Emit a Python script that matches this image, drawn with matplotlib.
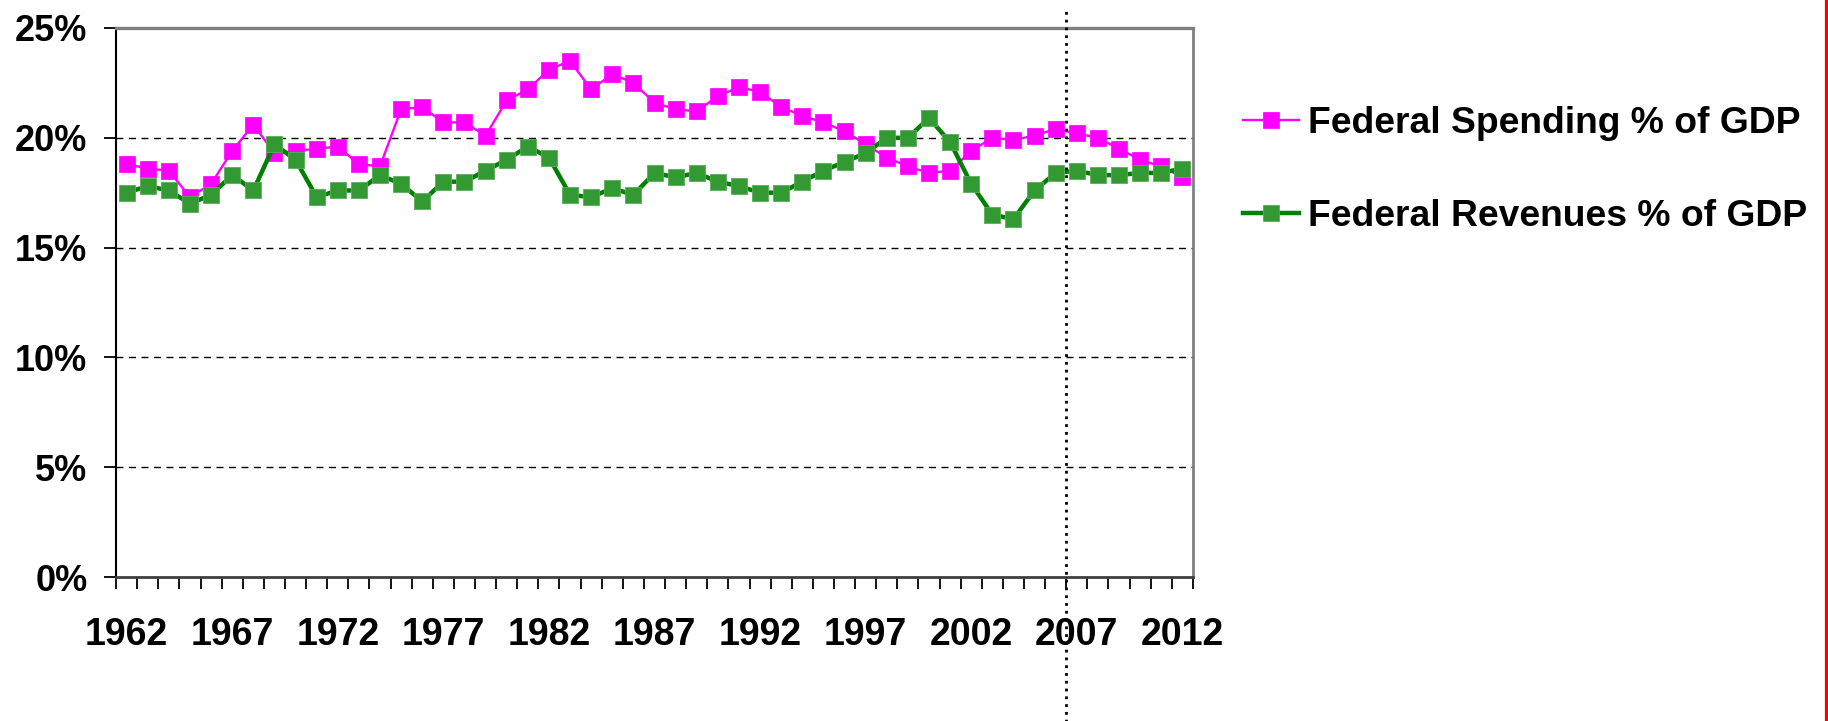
import numpy as np
import matplotlib as mpl
mpl.use("Agg")
import matplotlib.pyplot as plt
import matplotlib.transforms as mtransforms

years = list(range(1962, 2013))

spending = [18.8, 18.6, 18.5, 17.3, 17.9, 19.4, 20.6, 19.3, 19.4, 19.5,
            19.6, 18.8, 18.7, 21.3, 21.4, 20.7, 20.7, 20.1, 21.7, 22.2,
            23.1, 23.5, 22.2, 22.9, 22.5, 21.6, 21.3, 21.2, 21.9, 22.3,
            22.1, 21.4, 21.0, 20.7, 20.3, 19.7, 19.1, 18.7, 18.4, 18.5,
            19.4, 20.0, 19.9, 20.1, 20.4, 20.2, 20.0, 19.5, 19.0, 18.7,
            18.2]

revenues = [17.5, 17.8, 17.6, 17.0, 17.4, 18.3, 17.6, 19.7, 19.0, 17.3,
            17.6, 17.6, 18.3, 17.9, 17.1, 18.0, 18.0, 18.5, 19.0, 19.6,
            19.1, 17.4, 17.3, 17.7, 17.4, 18.4, 18.2, 18.4, 18.0, 17.8,
            17.5, 17.5, 18.0, 18.5, 18.9, 19.3, 20.0, 20.0, 20.9, 19.8,
            17.9, 16.5, 16.3, 17.6, 18.4, 18.5, 18.3, 18.3, 18.4, 18.4,
            18.6]

year_labels = [str(y) for y in years[::5]]
y_ticks = [0, 5, 10, 15, 20, 25]
y_tick_labels = ["0%", "5%", "10%", "15%", "20%", "25%"]
split_year = 2007  # dotted line sits on the boundary before this year

labels = ["Federal Spending % of GDP", "Federal Revenues % of GDP"]

mpl.rcParams.update({
    "font.family": ["Liberation Sans", "DejaVu Sans"],
    "font.weight": "bold",
    "axes.unicode_minus": False,
})

fig = plt.figure(figsize=(18.28, 7.21), dpi=100)
ax = fig.add_axes([0.0635, 0.1997, 0.5891, 0.7615])

x = np.arange(len(years))

ax.plot(x, spending, color="#FF00FF", lw=1.7, marker="s", ms=11.5,
        mfc="#FF00FF", mec="#FF00FF", mew=0.5, label=labels[0], zorder=3)
ax.plot(x, revenues, color="#008000", lw=3.2, marker="s", ms=12,
        mfc="#339933", mec="#5aad5a", mew=0.6, label=labels[1], zorder=4)

ax.set_xlim(-0.5, len(years) - 0.5)
ax.set_ylim(0, 25)

# category axis: labels every 5 years, tick marks between categories
ax.set_xticks(x[::5])
ax.set_xticklabels(year_labels)
ax.set_xticks(np.arange(-0.5, len(years)), minor=True)
ax.tick_params(axis="x", which="major", length=0, pad=29, labelsize=27)
ax.tick_params(axis="x", which="minor", length=8.6, width=1.3, color="black",
               direction="out")

ax.set_yticks(y_ticks)
ax.set_yticklabels(y_tick_labels)
ax.tick_params(axis="y", which="major", length=8.6, width=1.3, pad=12,
               labelsize=26, direction="out")

for lbl in ax.get_xticklabels() + ax.get_yticklabels():
    lbl.set_fontweight("bold")

for yv in y_ticks[1:-1]:
    ax.axhline(yv, color="black", lw=1.0, ls=(0, (5, 4)), zorder=1)

ax.spines["left"].set_color("black")
ax.spines["left"].set_linewidth(1.5)
ax.spines["bottom"].set_color("#404040")
ax.spines["bottom"].set_linewidth(2.0)
ax.spines["top"].set_color("#808080")
ax.spines["top"].set_linewidth(2.4)
ax.spines["right"].set_color("#808080")
ax.spines["right"].set_linewidth(2.0)

# dotted divider, runs past the plot area top and bottom
trans = mtransforms.blended_transform_factory(ax.transData, ax.transAxes)
xs = years.index(split_year) - 0.5
ax.plot([xs, xs], [-0.27, 1.038], transform=trans, clip_on=False,
        color="black", lw=2.0, ls=(0, (1, 1.8)), zorder=5)

leg = fig.legend(loc="upper left", bbox_to_anchor=(1243 / 1828, 1 - 106 / 721),
                 frameon=False, handlelength=1.5,
                 handletextpad=0.25, labelspacing=1.55, borderpad=0,
                 borderaxespad=0, prop={"weight": "bold", "size": 26.8})

# red border line on the right edge
fig.add_artist(plt.Line2D([1826 / 1828, 1826 / 1828], [0, 1],
                          transform=fig.transFigure, color="#FF0000", lw=2.3))

fig.savefig("out.png", dpi=100, facecolor="white")
